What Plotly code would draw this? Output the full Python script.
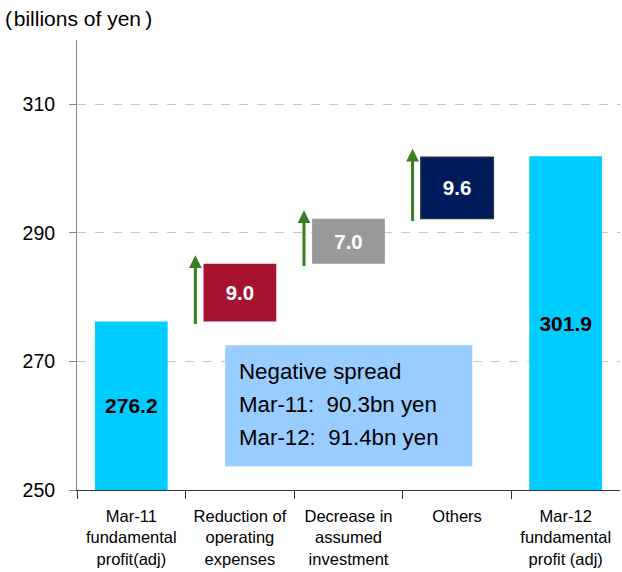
import plotly.graph_objects as go

# ---- data ----
categories = ["Mar-11<br>fundamental<br>profit(adj)",
              "Reduction of<br>operating<br>expenses",
              "Decrease in<br>assumed<br>investment",
              "Others",
              "Mar-12<br>fundamental<br>profit (adj)"]
start_value = 276.2
changes = [9.0, 7.0, 9.6]
end_value = 301.9
bar_labels = ["276.2", "9.0", "7.0", "9.6", "301.9"]
y_ticks = [250, 270, 290, 310]
note_lines = ["Negative spread",
              "Mar-11:\u00a0 90.3bn yen",
              "Mar-12:\u00a0 91.4bn yen"]

Y_MIN, Y_MAX = 250, 320

# ---- derived bar geometry ----
bases = [Y_MIN]
heights = [start_value - Y_MIN]
running = start_value
for c in changes:
    bases.append(running)
    heights.append(c)
    running += c
bases.append(Y_MIN)
heights.append(end_value - Y_MIN)

colors = ["#00CCFF", "#A6122F", "#999999", "#001C5C", "#00CCFF"]
text_colors = ["#000000", "#FFFFFF", "#FFFFFF", "#FFFFFF", "#000000"]
text_sizes = [21, 20.5, 20.5, 20.5, 21]
line_colors = ["rgba(0,0,0,0)", "rgba(0,0,0,0)", "rgba(0,0,0,0)", "#333333", "rgba(0,0,0,0)"]
line_widths = [0, 0, 0, 1.2, 0]

FONT = "Liberation Sans, Arial, sans-serif"

fig = go.Figure()
fig.add_trace(go.Bar(
    x=list(range(len(categories))),
    y=heights,
    base=bases,
    width=0.67,
    marker=dict(color=colors, line=dict(color=line_colors, width=line_widths)),
    text=bar_labels,
    textposition="inside",
    insidetextanchor="middle",
    textangle=0,
    textfont=dict(family=FONT, size=text_sizes, color=text_colors, weight="bold"),
    hoverinfo="skip",
))

# green arrows beside the change bars
for i, c in enumerate(changes):
    b = bases[i + 1]
    fig.add_annotation(
        x=i + 1 - 0.41, y=b + c + 1.3,
        ax=i + 1 - 0.41, ay=b - 0.6,
        xref="x", yref="y", axref="x", ayref="y",
        text="", showarrow=True,
        arrowhead=2, arrowsize=0.85, arrowwidth=3, arrowcolor="#3A7D22",
    )

# note box
fig.add_shape(type="rect", xref="x", yref="y",
              x0=0.865, x1=3.14, y0=253.7, y1=272.5,
              fillcolor="#99CCFF", line=dict(width=0), layer="above")
for k, line in enumerate(note_lines):
    fig.add_annotation(
        x=0.975, y=268.4 - k * 5.1, xref="x", yref="y",
        text=line, showarrow=False, xanchor="left", yanchor="middle",
        font=dict(family=FONT, size=22.3, color="#000000"),
    )

# unit title
fig.add_annotation(
    x=-0.5, y=1.0, xref="x", yref="paper",
    xshift=-74, yshift=22,
    text="(\u200abillions of yen\u2009)", showarrow=False,
    xanchor="left", yanchor="middle",
    font=dict(family=FONT, size=21, color="#000000"),
)

fig.update_layout(
    width=622, height=572,
    margin=dict(l=77, r=2, t=40, b=82),
    paper_bgcolor="white", plot_bgcolor="white",
    showlegend=False,
    font=dict(family=FONT, color="#000000"),
)
fig.update_xaxes(
    range=[-0.5, 4.5],
    tickmode="array",
    tickvals=list(range(len(categories))),
    ticktext=categories,
    showline=True, linecolor="#333333", linewidth=1.2,
    ticks="", showgrid=False, zeroline=False,
    ticklabelstandoff=11,
    tickfont=dict(family=FONT, size=16.5, color="#000000"),
    minor=dict(tickmode="array", tickvals=[-0.5, 0.5, 1.5, 2.5, 3.5],
               ticks="outside", ticklen=8, tickcolor="#333333", tickwidth=1.2,
               showgrid=False),
)
fig.update_yaxes(
    range=[Y_MIN, Y_MAX],
    tickmode="array", tickvals=y_ticks,
    showline=True, linecolor="#888888", linewidth=1,
    ticks="outside", ticklen=7, tickcolor="#888888",
    showgrid=True, gridcolor="#C8C8C8", griddash="dash", gridwidth=1,
    zeroline=False,
    ticklabelstandoff=10,
    tickfont=dict(family=FONT, size=19.5, color="#000000"),
)

# remove the default 8px page margin so the figure sits at the window's corner
fig.write_html("out.html", config={"displayModeBar": False},
               post_script="document.body.style.margin='0';")
